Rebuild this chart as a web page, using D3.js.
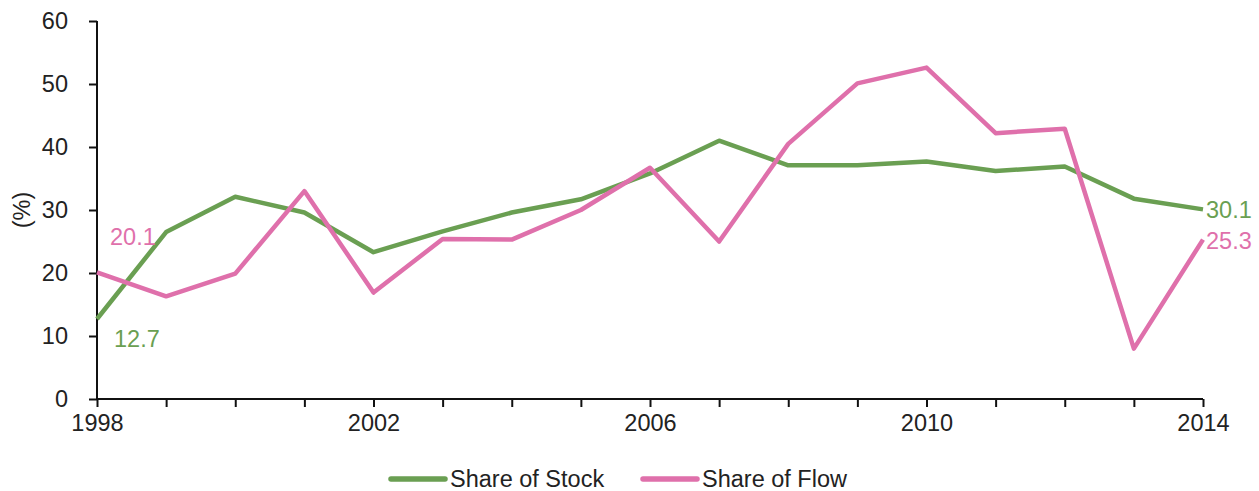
<!DOCTYPE html>
<html>
<head>
<meta charset="utf-8">
<script src="https://cdn.jsdelivr.net/npm/d3@7"></script>
<style>
    body { margin: 0; background: #fff; }
    text { font-family: "Liberation Sans", Arial, sans-serif; }
</style>
</head>
<body>
<script>
// chart data
var years = [1998, 1999, 2000, 2001, 2002, 2003, 2004, 2005, 2006,
    2007, 2008, 2009, 2010, 2011, 2012, 2013, 2014];
var shareOfStock = [12.7, 26.5, 32.1, 29.6, 23.3, 26.6, 29.6, 31.7, 35.8,
    41.0, 37.1, 37.1, 37.7, 36.2, 36.9, 31.8, 30.1];
var shareOfFlow = [20.1, 16.3, 19.9, 33.0, 16.9, 25.4, 25.3, 30.0, 36.7,
    25.0, 40.5, 50.1, 52.6, 42.2, 42.9, 8.0, 25.3];
var seriesNames = ['Share of Stock', 'Share of Flow'];
var yTicks = [0, 10, 20, 30, 40, 50, 60];
var xTickLabels = [1998, 2002, 2006, 2010, 2014];

var WIDTH = 1259,
    HEIGHT = 491,
    FONT_SIZE = 23.5,
    COLORS = ['#6a9f52', '#df70ab'];

var margin = {left: 97, top: 21, right: 56, bottom: 92},
    w = WIDTH - margin.left - margin.right,
    h = HEIGHT - margin.top - margin.bottom;

var svg = d3.select('body').append('svg')
    .attr('width', WIDTH)
    .attr('height', HEIGHT);

var g = svg.append('g')
    .attr('transform', `translate(${margin.left},${margin.top})`);

var x = d3.scaleLinear().domain([1998, 2014]).range([0, w]),
    y = d3.scaleLinear().domain([0, 60]).range([h, 0]);

// axes
var xAxis = g.append('g')
    .attr('transform', `translate(0,${h})`)
    .call(d3.axisBottom(x)
        .tickValues(years)
        .tickSize(8)
        .tickPadding(7)
        .tickFormat(d => xTickLabels.indexOf(d) >= 0 ? d : ''));

var yAxis = g.append('g')
    .call(d3.axisLeft(y)
        .tickValues(yTicks)
        .tickSize(8)
        .tickPadding(21));

[xAxis, yAxis].forEach(ax => {
    ax.select('.domain').attr('stroke', '#111').attr('stroke-width', 2);
    ax.selectAll('.tick line').attr('stroke', '#111').attr('stroke-width', 2);
    ax.selectAll('.tick text')
        .attr('fill', '#222')
        .style('font-size', FONT_SIZE + 'px')
        .style('font-family', '"Liberation Sans", Arial, sans-serif');
});
// plain domain lines, no outer ticks
xAxis.select('.domain').attr('d', `M0,0H${w}`);
yAxis.select('.domain').attr('d', `M0,0V${h}`);

svg.append('text')
    .attr('transform', `translate(22,${margin.top + h/2}) rotate(-90)`)
    .attr('text-anchor', 'middle')
    .attr('dy', '0.35em')
    .attr('fill', '#222')
    .style('font-size', FONT_SIZE + 'px')
    .text('(%)');

// lines
var series = [shareOfStock, shareOfFlow];
var line = d3.line()
    .x((d, i) => x(years[i]))
    .y(d => y(d));

series.forEach((vals, s) => {
    g.append('path')
        .datum(vals)
        .attr('fill', 'none')
        .attr('stroke', COLORS[s])
        .attr('stroke-width', 4.5)
        .attr('stroke-linejoin', 'round')
        .attr('d', line);
});

// end labels
var labels = [
    {s: 0, i: 0, dx: 17, dy: 28, anchor: 'start'},
    {s: 1, i: 0, dx: 13, dy: -27, anchor: 'start'},
    {s: 0, i: years.length - 1, dx: 3, dy: 9, anchor: 'start'},
    {s: 1, i: years.length - 1, dx: 3, dy: 9, anchor: 'start'}
];
labels.forEach(l => {
    var v = series[l.s][l.i];
    g.append('text')
        .attr('x', x(years[l.i]) + l.dx)
        .attr('y', y(v) + l.dy)
        .attr('text-anchor', l.anchor)
        .attr('fill', COLORS[l.s])
        .style('font-size', FONT_SIZE + 'px')
        .text(v.toFixed(1));
});

// legend
var legendX = [391, 643];
seriesNames.forEach((name, s) => {
    var lg = svg.append('g')
        .attr('transform', `translate(${legendX[s]},479)`);
    lg.append('line')
        .attr('x1', 0).attr('x2', 54)
        .attr('stroke', COLORS[s])
        .attr('stroke-width', 5.5)
        .attr('stroke-linecap', 'round');
    lg.append('text')
        .attr('x', 59)
        .attr('dy', '0.35em')
        .attr('fill', '#222')
        .style('font-size', FONT_SIZE + 'px')
        .text(name);
});
</script>
</body>
</html>
